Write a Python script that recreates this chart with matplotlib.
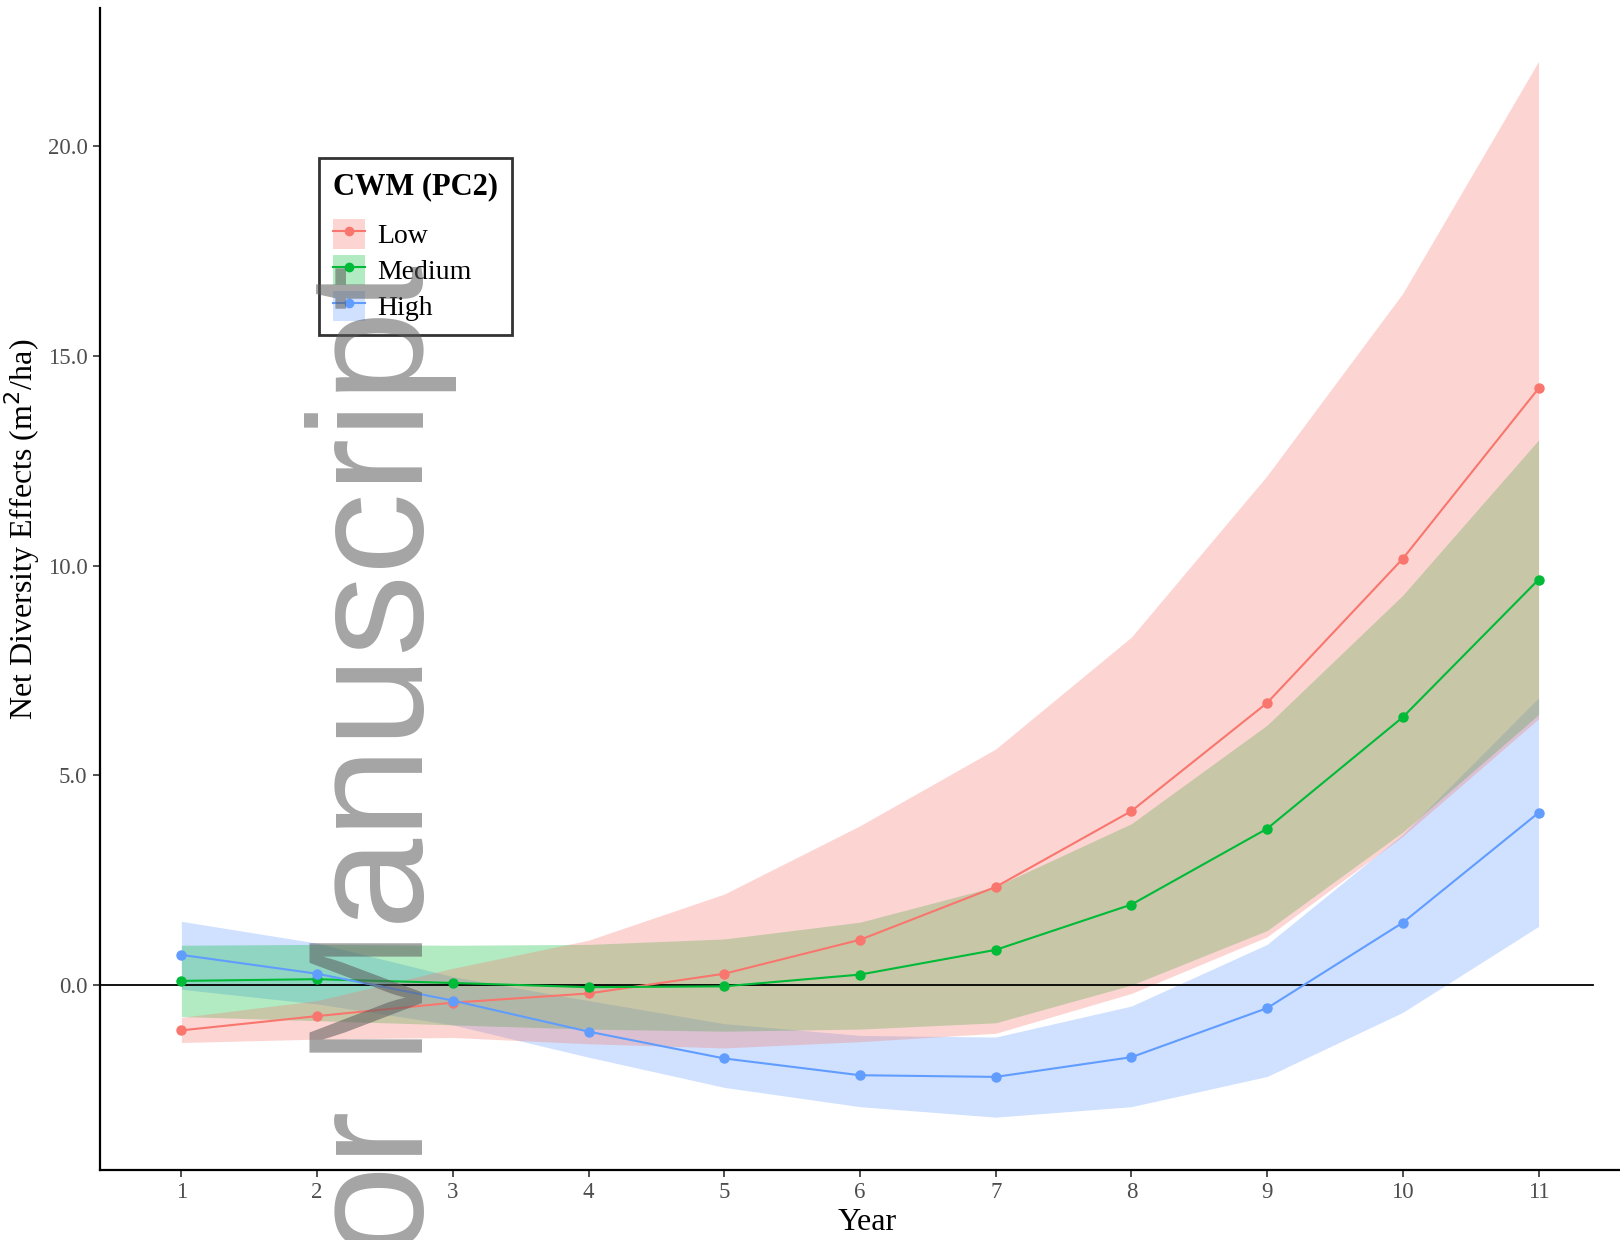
import matplotlib
matplotlib.use("Agg")
import matplotlib.pyplot as plt
from matplotlib.patches import Patch
from matplotlib.lines import Line2D

# ---------------- data ----------------
years = [1, 2, 3, 4, 5, 6, 7, 8, 9, 10, 11]
groups = ["Low", "Medium", "High"]

low_fit = [-1.08, -0.74, -0.42, -0.20, 0.27, 1.08, 2.34, 4.15, 6.73, 10.17, 14.23]
low_lo = [-1.37, -1.29, -1.25, -1.40, -1.50, -1.35, -1.15, -0.20, 1.15, 3.55, 6.35]
low_hi = [-0.77, -0.37, 0.40, 1.07, 2.17, 3.80, 5.63, 8.30, 12.15, 16.50, 22.03]

mid_fit = [0.10, 0.14, 0.05, -0.05, -0.03, 0.25, 0.84, 1.92, 3.73, 6.39, 9.67]
mid_lo = [-0.75, -0.85, -0.95, -1.05, -1.10, -1.05, -0.90, 0.00, 1.30, 3.65, 6.45]
mid_hi = [0.95, 0.97, 0.95, 0.97, 1.10, 1.50, 2.35, 3.85, 6.20, 9.30, 13.00]

high_fit = [0.72, 0.27, -0.37, -1.11, -1.75, -2.15, -2.19, -1.72, -0.55, 1.49, 4.11]
high_lo = [-0.10, -0.45, -0.95, -1.72, -2.44, -2.90, -3.15, -2.90, -2.18, -0.65, 1.40]
high_hi = [1.52, 1.00, 0.20, -0.37, -0.92, -1.20, -1.24, -0.50, 0.97, 3.60, 6.85]

y_ticks = [0, 5, 10, 15, 20]
y_ticklabels = ["0.0", "5.0", "10.0", "15.0", "20.0"]

colors = {"Low": "#F8766D", "Medium": "#00BA38", "High": "#619CFF"}
series = {
    "Low": (low_fit, low_lo, low_hi),
    "Medium": (mid_fit, mid_lo, mid_hi),
    "High": (high_fit, high_lo, high_hi),
}

# ---------------- figure ----------------
plt.rcParams["font.family"] = ["Liberation Serif", "DejaVu Serif"]
fig = plt.figure(figsize=(16.2, 12.4), dpi=100)
ax = fig.add_axes([0.0617, 0.0568, 1.0 - 0.0617, 0.9935 - 0.0568])

# ribbons: High first, then Medium, then Low on top
for g in ["High", "Medium", "Low"]:
    fit, lo, hi = series[g]
    ax.fill_between(years, lo, hi, color=colors[g], alpha=0.3, lw=0, zorder=1)

ax.axhline(0, xmin=0, xmax=(11.4 - 0.4) / 11.2, color="black", lw=1.3, zorder=2)

for g in groups:
    fit, lo, hi = series[g]
    ax.plot(years, fit, color=colors[g], lw=1.5, marker="o", ms=6.5,
            zorder=3)

ax.set_xlim(0.4, 11.6)
ax.set_ylim(-4.4, 23.3)
ax.set_xticks(years)
ax.set_xticklabels([str(y) for y in years])
ax.set_yticks(y_ticks)
ax.set_yticklabels(y_ticklabels)

for s in ["top", "right"]:
    ax.spines[s].set_visible(False)
for s in ["left", "bottom"]:
    ax.spines[s].set_linewidth(1.6)
    ax.spines[s].set_color("black")

ax.tick_params(axis="both", direction="out", length=5, width=1.2,
               color="#333333", labelcolor="#4D4D4D", labelsize=16.5, pad=4)

ax.set_xlabel("Year", fontsize=23)
ax.xaxis.set_label_coords(0.5046, -0.033)
ax.set_ylabel("Net Diversity Effects (m$^2$/ha)", fontsize=23,
              va="center")
ax.yaxis.set_label_coords(-0.0509, 0.5515)

# legend
handles = [
    (Patch(facecolor=colors[g], alpha=0.3, edgecolor="none"),
     Line2D([], [], color=colors[g], lw=1.5, marker="o", ms=6))
    for g in groups
]
leg = fig.legend(handles, groups, title="CWM (PC2)",
                 loc="upper left", bbox_to_anchor=(0.197, 0.8726),
                 borderaxespad=0.0,
                 frameon=True, fancybox=False, fontsize=20,
                 title_fontproperties={"weight": "bold", "size": 22},
                 handlelength=1.15, handleheight=1.3, handletextpad=0.45,
                 labelspacing=0.2, borderpad=0.5, alignment="left")
leg.get_frame().set_edgecolor("black")
leg.get_frame().set_linewidth(2.0)
leg._legend_box.sep = 13

# watermark
fig.text(0.2611, -0.0129, "or Manuscript", rotation=90, rotation_mode="anchor",
         ha="left", va="baseline", fontsize=117.8, color="#5a5a5a", alpha=0.55,
         family=["Liberation Sans", "DejaVu Sans"], zorder=10)

fig.savefig("out.png", dpi=100)
